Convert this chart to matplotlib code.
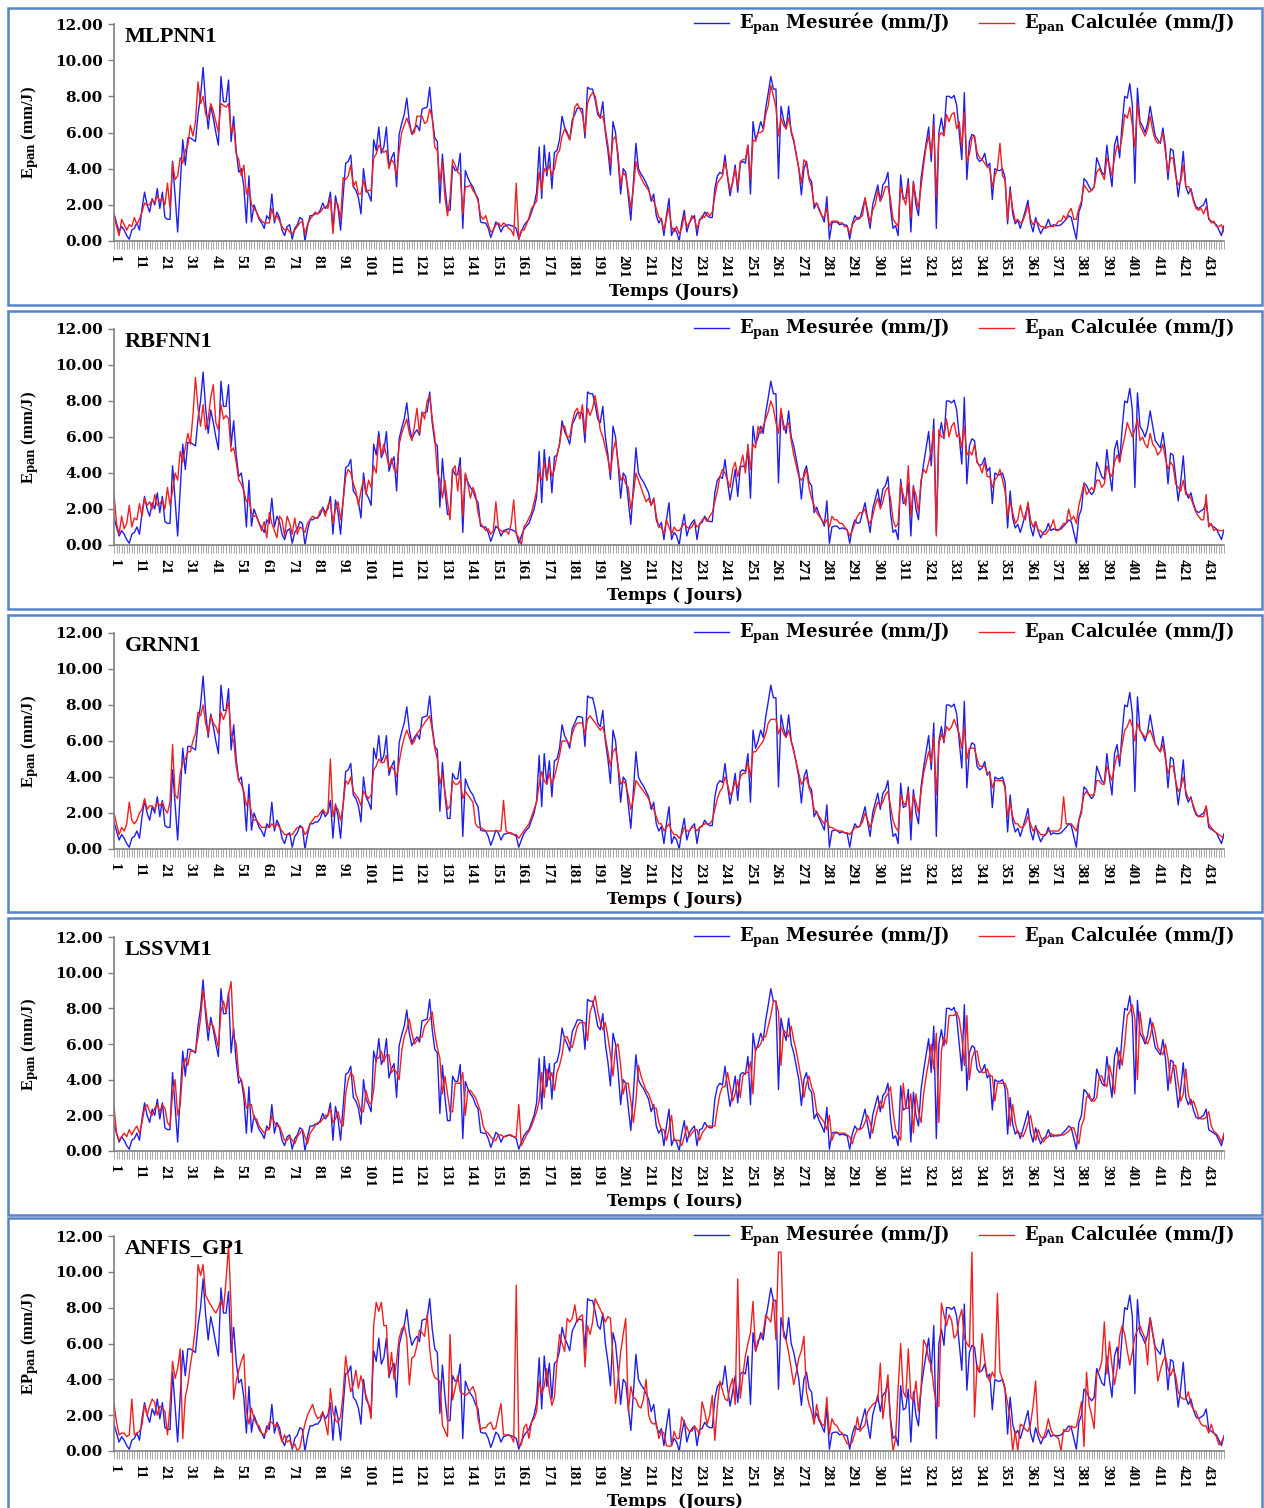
import numpy as np
import matplotlib.pyplot as plt
from matplotlib.patches import Rectangle
from matplotlib.ticker import FormatStrFormatter

# Epan mesurée (mm/J), commune aux 5 graphes
mesuree = [
    1.5, 1.0, 0.5, 0.8, 0.6, 0.3, 0.1, 0.6, 0.7, 1.0,
    0.6, 1.8, 2.7, 2.0, 1.6, 2.35, 2.0, 2.9, 1.8, 2.7,
    1.3, 1.2, 1.2, 4.4, 2.5, 0.5, 3.0, 5.6, 4.2, 5.7,
    5.7, 5.6, 5.5, 7.0, 8.0, 9.6, 7.6, 6.2, 7.5, 6.8,
    6.0, 5.3, 9.1, 7.7, 7.7, 8.9, 5.5, 6.9, 5.0, 3.8,
    4.0, 3.0, 1.0, 3.6, 1.05, 2.0, 1.6, 1.2, 1.0, 0.7,
    1.4, 1.2, 2.6, 1.0, 1.6, 1.3, 0.6, 0.3, 0.8, 0.9,
    0.1, 0.7, 0.9, 1.3, 1.2, 0.0, 0.8, 1.4, 1.4, 1.5,
    1.5, 1.7, 2.1, 1.8, 2.0, 2.7, 0.6, 2.5, 1.8, 0.6,
    2.5, 4.3, 4.4, 4.75, 3.0, 2.8, 2.4, 1.5, 4.0, 2.9,
    2.6, 2.2, 5.6, 5.0, 6.3, 4.85, 5.2, 6.3, 4.1, 4.6,
    4.9, 3.0, 5.9, 6.5, 7.0, 7.9, 6.6, 5.9, 6.2, 6.4,
    6.1, 7.3, 7.35, 7.4, 8.5, 6.8, 5.7, 5.5, 2.1, 4.8,
    3.0, 1.7, 1.7, 4.2, 3.9, 3.9, 4.85, 0.7, 3.9, 3.5,
    3.2, 3.0, 2.6, 2.35, 1.05, 1.0, 1.0, 0.7, 0.2, 0.6,
    1.05, 0.9, 0.5, 0.8, 0.85, 0.9, 0.85, 0.8, 0.7, 0.1,
    0.5, 0.85, 1.05, 1.2, 1.6, 2.0, 2.7, 5.2, 2.35, 5.3,
    3.6, 4.9, 2.9, 4.9, 5.0, 5.6, 6.9, 6.3, 6.0, 5.6,
    6.7, 7.0, 7.35, 7.35, 7.3, 5.7, 8.5, 8.4, 8.4, 7.8,
    7.0, 6.8, 7.7, 6.0, 5.0, 3.65, 6.6, 6.0, 4.5, 2.6,
    4.0, 3.8, 2.5, 1.15, 3.2, 5.4, 4.0, 3.7, 3.5, 3.2,
    2.9, 2.2, 2.6, 1.4, 1.0, 1.25, 0.3, 1.4, 2.35, 0.3,
    0.7, 0.5, 0.0, 1.0, 1.7, 0.5, 1.0, 1.25, 1.4, 0.3,
    1.2, 1.25, 1.6, 1.4, 1.3, 1.3, 2.9, 3.6, 3.8, 3.7,
    4.75, 3.5, 2.5, 3.3, 4.2, 2.7, 4.3, 4.4, 4.3, 5.3,
    2.6, 6.6, 5.6, 6.0, 6.6, 6.2, 7.35, 8.2, 9.1, 8.4,
    8.4, 3.45, 7.45, 6.7, 6.2, 7.45, 6.0, 5.5, 4.75, 4.0,
    2.55, 4.0, 4.4, 3.5, 3.3, 1.8, 2.1, 1.7, 1.4, 1.05,
    2.45, 0.1, 1.0, 1.05, 1.05, 0.9, 0.95, 0.9, 0.85, 0.1,
    0.95, 1.4, 1.2, 1.25, 1.8, 2.35, 1.5, 0.7, 2.0, 2.55,
    3.1, 2.2, 3.1, 3.3, 3.8, 1.8, 0.7, 0.85, 0.3, 3.65,
    2.3, 2.4, 3.45, 0.5, 3.3, 2.0, 1.4, 3.45, 4.5, 5.4,
    6.3, 4.4, 7.0, 0.7, 6.0, 6.8, 5.9, 8.0, 8.0, 7.9,
    8.05, 7.5, 6.0, 4.5, 8.2, 3.4, 5.5, 5.9, 5.8, 4.6,
    4.4, 4.5, 4.85, 4.1, 4.3, 2.3, 4.0, 3.9, 3.9, 4.0,
    3.5, 0.95, 3.0, 1.5, 0.95, 1.15, 0.7, 1.2, 1.7, 2.25,
    1.0, 0.5, 1.3, 0.8, 0.4, 0.7, 0.8, 1.2, 0.8, 0.9,
    0.85, 0.85, 0.9, 1.05, 1.2, 1.4, 1.3, 0.7, 0.1, 1.6,
    2.0, 3.45, 3.3, 3.0, 2.8, 3.0, 4.6, 4.2, 3.8, 3.65,
    5.3, 4.0, 3.0, 5.3, 5.8, 4.6, 6.5, 8.0, 7.9, 8.7,
    7.5, 3.2, 8.45, 6.6, 6.35, 6.0, 6.5, 7.45, 6.6, 5.8,
    5.6, 5.4, 6.25, 5.2, 3.4, 5.1, 5.0, 3.8, 2.45, 3.5,
    4.95, 3.0, 2.6, 2.9, 2.3, 1.9, 1.8, 1.9, 2.0, 2.35,
    1.2, 1.1, 1.0, 0.9, 0.6, 0.3, 0.85,
]

calc_mlpnn1 = [
    1.5, 0.8, 0.3, 1.2, 0.9, 0.6, 0.9, 0.8, 1.3, 0.9,
    1.2, 1.6, 2.1, 2.0, 2.0, 2.3, 2.1, 2.5, 2.2, 2.4,
    2.0, 3.2, 1.8, 4.3, 3.4, 3.6, 4.6, 4.3, 5.0, 5.3,
    6.4, 5.8, 6.6, 8.8, 7.6, 8.0, 7.0, 6.8, 7.6, 7.2,
    6.6, 6.0, 7.6, 7.5, 7.4, 7.6, 6.0, 6.4, 4.8, 4.5,
    3.6, 4.2, 2.6, 3.0, 2.0, 1.8, 1.6, 1.3, 1.1, 1.0,
    1.0, 1.0, 1.8, 1.2, 1.4, 1.1, 0.8, 0.6, 0.7, 0.5,
    0.4, 0.6, 0.8, 1.0, 1.1, 0.4, 0.9, 1.2, 1.4, 1.6,
    1.5, 1.6, 1.8, 1.9, 1.8, 2.4, 0.4, 2.2, 2.0, 1.2,
    3.5, 3.4, 3.6, 4.2, 3.0, 3.3, 2.6, 2.6, 3.4, 2.7,
    2.8, 2.8, 4.6, 4.8, 5.3, 5.1, 4.9, 5.0, 4.0, 4.5,
    4.3, 3.6, 5.0, 6.0, 6.4, 6.8, 6.4, 5.9, 6.0, 6.9,
    6.9, 6.9, 6.5, 6.6, 7.3, 6.8, 5.2, 5.0, 3.2, 4.4,
    2.4, 1.4, 2.4, 4.5, 4.2, 3.8, 3.7, 1.5, 3.0, 3.0,
    3.1, 2.8, 2.6, 2.2, 1.4, 1.2, 1.4, 0.9, 0.5, 0.6,
    0.9, 1.0, 0.8, 1.0, 0.9, 0.7, 0.6, 0.3, 3.2, 0.1,
    0.6, 0.6, 0.9, 1.3, 1.8, 2.0, 2.2, 3.8, 2.8, 4.0,
    3.8, 4.2, 3.6, 4.0, 4.8, 5.0, 5.8, 6.2, 5.9, 5.6,
    6.4, 7.4, 7.6, 7.3, 7.0, 6.0, 7.6, 8.0, 8.2, 8.0,
    7.2, 6.8, 6.9, 6.2, 5.3, 4.2, 5.6, 5.8, 4.8, 3.1,
    3.8, 3.6, 2.8, 1.8, 2.9, 4.4, 3.8, 3.5, 3.2, 3.0,
    2.8, 2.4, 2.2, 1.8, 1.3, 1.2, 0.6, 1.3, 1.8, 0.8,
    0.5, 0.8, 0.4, 0.7, 1.4, 0.8, 1.0, 1.4, 1.2, 0.7,
    1.1, 1.4, 1.3, 1.6, 1.4, 1.6, 2.5, 3.2, 3.4, 3.6,
    4.4, 3.6, 2.8, 3.2, 4.0, 3.0, 4.4, 4.5, 4.5, 5.3,
    3.4, 5.6, 5.5, 6.0, 6.0, 6.1, 7.0, 7.5, 8.6, 8.0,
    7.4, 5.8, 6.8, 6.4, 6.2, 6.8, 6.1, 5.6, 4.8, 4.0,
    3.2, 4.5, 4.3, 3.4, 3.0, 2.0, 2.1, 1.8, 1.4, 1.3,
    1.8, 0.8, 1.1, 1.1, 1.1, 1.0, 1.0, 0.8, 0.8, 0.4,
    0.9, 1.1, 1.3, 1.3, 1.4, 2.4, 1.7, 1.0, 1.7, 2.0,
    2.8, 2.2, 2.5, 3.0, 3.0, 2.3, 1.2, 1.0, 0.8, 3.0,
    2.4, 2.0, 3.2, 1.3, 3.2, 2.4, 1.8, 3.0, 4.2, 5.2,
    5.8, 4.8, 6.4, 2.4, 5.8, 6.0, 5.8, 7.0, 6.6, 7.0,
    7.1, 6.2, 6.6, 5.2, 7.1, 4.4, 4.8, 5.7, 5.8, 4.9,
    4.6, 4.5, 4.3, 4.1, 4.0, 3.0, 3.6, 4.0, 5.4, 3.6,
    3.4, 1.2, 2.8, 1.8, 1.1, 1.2, 1.0, 1.1, 1.5, 2.0,
    1.2, 0.9, 1.1, 1.0, 0.8, 0.8, 0.7, 0.8, 0.8, 0.8,
    0.9, 1.1, 1.1, 1.4, 1.2, 1.6, 1.8, 1.2, 1.2, 1.8,
    2.2, 3.1, 2.9, 2.7, 2.8, 3.0, 3.8, 4.0, 3.7, 3.4,
    4.6, 4.2, 3.6, 4.6, 5.3, 5.0, 5.8, 7.0, 6.8, 7.4,
    6.4, 5.2, 7.6, 6.4, 6.1, 5.8, 6.2, 6.9, 6.1, 5.6,
    5.4, 5.5, 6.0, 4.9, 3.8, 4.6, 4.6, 3.6, 3.1, 3.3,
    4.2, 3.0, 3.0, 2.8, 2.2, 1.8, 1.7, 1.8, 1.5, 1.9,
    1.3, 1.0, 1.1, 0.8, 0.8, 0.9, 0.5,
]

calc_rbfnn1 = [
    2.8, 1.2, 0.6, 1.6, 0.9, 1.2, 2.2, 1.0, 1.5, 1.4,
    2.3, 1.6, 2.6, 2.2, 2.4, 2.0, 2.8, 2.2, 2.3, 2.5,
    2.0, 3.2, 2.2, 3.0, 4.0, 3.6, 5.2, 4.6, 5.4, 6.2,
    5.6, 7.2, 9.3, 7.6, 6.6, 7.8, 6.4, 7.0, 8.2, 8.9,
    6.8, 6.4, 7.8, 7.0, 7.2, 7.0, 5.2, 5.4, 4.6, 3.6,
    3.4, 3.0, 2.4, 2.6, 1.8, 1.6, 1.6, 1.2, 0.8, 1.3,
    0.4, 1.8, 1.2, 0.8, 0.4, 1.6, 1.4, 0.5, 1.6, 1.2,
    0.6, 1.5, 0.6, 1.0, 0.9, 0.7, 1.2, 1.4, 1.6, 1.5,
    1.5, 1.9, 2.0, 1.6, 2.2, 2.4, 1.2, 2.0, 2.4, 1.4,
    2.4, 3.8, 4.2, 4.0, 3.4, 3.0, 2.2, 3.0, 3.6, 2.8,
    3.6, 3.2, 4.4, 4.0, 6.0, 5.0, 5.6, 5.0, 4.4, 4.8,
    4.2, 4.0, 5.6, 6.2, 6.6, 7.0, 6.2, 5.8, 6.6, 7.6,
    6.2, 7.4, 7.0, 8.0, 8.3, 7.0, 6.0, 4.0, 3.6, 2.6,
    3.6, 2.4, 1.4, 4.2, 4.4, 3.0, 4.4, 1.6, 4.0, 3.4,
    2.6, 3.2, 2.8, 1.8, 1.2, 1.0, 0.8, 0.9, 0.6, 0.8,
    2.4, 0.9, 0.8, 0.7, 0.8, 0.6, 1.2, 2.5, 0.6, 0.4,
    0.0, 1.0, 1.2, 1.5, 1.8, 2.4, 3.0, 4.0, 3.6, 4.6,
    3.6, 4.6, 3.8, 4.2, 5.0, 5.6, 6.6, 6.6, 6.0, 6.0,
    6.8, 7.4, 7.6, 7.0, 7.8, 6.2, 7.6, 7.2, 7.6, 8.3,
    7.4, 6.4, 6.0, 5.4, 4.8, 4.0, 5.2, 5.8, 4.6, 3.6,
    3.8, 3.4, 3.2, 2.0, 2.8, 4.0, 3.6, 3.2, 2.8, 2.4,
    2.6, 2.2, 2.6, 1.6, 1.0, 1.0, 0.6, 1.4, 1.0, 0.6,
    1.0, 0.8, 0.8, 1.0, 1.2, 1.0, 0.9, 1.0, 1.3, 1.0,
    1.1, 1.4, 1.5, 1.3, 1.6, 1.8, 2.4, 3.0, 3.8, 4.2,
    4.0, 3.6, 3.2, 4.2, 4.6, 3.8, 4.4, 5.0, 4.0, 5.6,
    4.2, 5.6, 5.4, 6.6, 6.2, 6.6, 7.0, 7.4, 8.0, 7.6,
    6.8, 6.2, 7.6, 6.4, 6.6, 6.8, 5.8, 5.0, 4.4, 3.8,
    3.6, 3.8, 4.2, 3.2, 2.6, 2.2, 1.8, 1.6, 1.4, 1.2,
    1.4, 1.0, 1.6, 1.4, 1.4, 1.2, 1.2, 1.0, 0.8, 0.5,
    0.8, 1.2, 1.6, 1.8, 1.8, 2.0, 1.4, 1.2, 1.6, 2.2,
    2.6, 2.0, 2.4, 3.0, 3.2, 2.6, 1.4, 1.0, 1.2, 3.4,
    2.8, 2.2, 4.4, 1.6, 3.2, 2.8, 1.8, 3.6, 4.2, 4.0,
    4.6, 5.2, 6.4, 0.5, 6.4, 6.0, 6.0, 7.0, 6.0, 6.6,
    6.8, 6.0, 6.2, 5.4, 6.6, 5.0, 5.2, 5.0, 5.6, 4.6,
    4.4, 4.0, 4.6, 3.8, 3.8, 3.2, 3.6, 3.8, 4.2, 3.6,
    3.0, 1.6, 2.4, 1.8, 1.2, 1.4, 2.2, 1.6, 1.4, 2.4,
    1.4, 1.0, 1.3, 0.8, 0.8, 0.6, 0.6, 0.8, 1.0, 1.4,
    0.8, 0.8, 1.0, 1.2, 1.2, 2.0, 1.4, 1.6, 1.2, 2.2,
    2.8, 3.4, 2.8, 3.0, 3.2, 3.0, 3.6, 3.6, 3.2, 3.4,
    4.4, 4.0, 3.8, 4.6, 5.0, 4.6, 5.4, 6.0, 6.8, 6.4,
    6.0, 6.4, 7.0, 5.8, 6.0, 5.6, 5.4, 6.2, 5.6, 5.4,
    5.0, 5.2, 5.6, 4.8, 4.2, 4.6, 4.4, 3.4, 3.2, 3.0,
    3.6, 2.8, 2.8, 2.6, 2.2, 1.8, 1.6, 1.4, 1.4, 2.8,
    1.0, 1.2, 0.8, 0.9, 0.8, 0.8, 0.8,
]

calc_grnn1 = [
    2.0, 1.4, 0.8, 1.2, 1.0, 1.4, 2.6, 1.6, 1.4, 1.6,
    2.0, 2.2, 2.8, 2.2, 2.4, 2.4, 2.2, 2.6, 2.4, 2.6,
    2.2, 2.0, 2.6, 5.8, 3.0, 2.8, 4.2, 4.8, 5.0, 5.4,
    5.4, 6.0, 6.4, 7.6, 7.4, 8.0, 7.0, 6.4, 7.4, 7.0,
    6.8, 6.4, 7.6, 7.2, 7.6, 8.2, 6.4, 6.0, 4.6, 3.8,
    3.6, 3.2, 2.4, 2.8, 2.0, 1.6, 1.6, 1.4, 1.2, 1.2,
    1.2, 1.2, 1.4, 1.2, 1.4, 1.2, 1.0, 0.8, 0.8, 0.8,
    0.8, 1.0, 1.2, 1.2, 1.2, 0.8, 1.0, 1.4, 1.6, 1.8,
    1.8, 2.0, 2.2, 2.0, 2.0, 5.0, 1.8, 2.4, 2.2, 1.6,
    2.4, 3.8, 3.6, 4.0, 3.2, 3.0, 2.8, 2.4, 3.2, 3.0,
    2.8, 3.0, 4.4, 4.6, 5.0, 4.8, 4.8, 5.2, 4.4, 4.6,
    4.4, 4.0, 4.8, 5.6, 6.2, 6.6, 6.2, 5.8, 6.0, 6.4,
    6.6, 6.8, 7.0, 7.2, 7.4, 6.6, 5.6, 5.0, 3.6, 4.2,
    3.2, 2.2, 2.4, 3.8, 3.6, 3.6, 3.8, 2.8, 3.2, 3.0,
    2.8, 2.6, 1.4, 1.2, 1.2, 1.1, 1.0, 1.0, 1.0, 1.0,
    1.0, 1.0, 1.0, 2.7, 1.0, 0.9, 0.9, 0.8, 0.8, 0.6,
    0.8, 1.0, 1.2, 1.4, 1.8, 2.2, 2.6, 3.6, 4.3, 3.8,
    3.6, 4.2, 3.6, 4.0, 4.6, 5.2, 6.0, 6.0, 6.0, 5.8,
    6.4, 6.8, 7.0, 7.0, 7.0, 6.4, 7.2, 7.4, 7.2, 7.0,
    6.8, 6.6, 6.8, 6.2, 5.4, 4.6, 5.4, 5.6, 4.6, 3.6,
    3.8, 3.6, 3.0, 2.2, 2.8, 3.8, 3.6, 3.4, 3.2, 3.0,
    2.8, 2.4, 2.2, 1.8, 1.4, 1.4, 1.0, 1.2, 1.4, 1.0,
    0.8, 0.8, 0.6, 0.8, 1.2, 1.0, 1.0, 1.2, 1.2, 1.0,
    1.2, 1.3, 1.4, 1.4, 1.4, 1.6, 2.2, 2.8, 3.2, 3.4,
    4.0, 3.6, 3.0, 3.2, 3.8, 3.4, 4.0, 4.2, 4.2, 4.8,
    4.0, 5.4, 5.4, 5.6, 5.8, 6.0, 6.4, 7.0, 7.2, 7.2,
    7.2, 6.4, 6.8, 6.4, 6.2, 6.6, 6.0, 5.4, 4.8, 4.2,
    3.6, 3.8, 4.0, 3.4, 3.0, 2.2, 2.0, 1.8, 1.6, 1.4,
    1.6, 1.2, 1.2, 1.1, 1.0, 1.0, 1.0, 0.9, 0.9, 0.8,
    1.0, 1.2, 1.2, 1.3, 1.5, 2.0, 1.6, 1.2, 1.6, 2.2,
    2.6, 2.4, 2.6, 3.0, 3.2, 2.4, 1.6, 1.2, 1.0, 3.0,
    2.6, 2.4, 3.2, 1.6, 3.0, 2.6, 2.0, 3.2, 4.2, 4.8,
    5.4, 4.8, 6.2, 3.0, 5.8, 6.4, 6.0, 6.8, 6.6, 6.8,
    7.2, 6.8, 6.4, 5.6, 6.8, 5.0, 5.6, 5.6, 5.6, 5.0,
    4.6, 4.6, 4.6, 4.2, 4.2, 3.4, 3.8, 3.8, 3.8, 3.8,
    3.4, 1.8, 2.6, 1.8, 1.4, 1.4, 1.2, 1.2, 1.4, 1.8,
    1.4, 1.0, 1.2, 1.0, 0.8, 0.8, 0.8, 1.0, 1.0, 1.0,
    1.0, 1.0, 1.2, 2.9, 1.4, 1.4, 1.4, 1.2, 1.0, 1.6,
    2.2, 3.0, 3.2, 3.0, 3.0, 3.0, 3.8, 3.8, 3.6, 3.6,
    4.6, 4.2, 3.8, 4.6, 5.2, 5.0, 5.8, 6.6, 6.8, 7.2,
    6.8, 6.0, 7.0, 6.6, 6.4, 6.2, 6.4, 6.6, 6.2, 5.8,
    5.6, 5.4, 5.8, 5.0, 4.2, 4.6, 4.6, 3.8, 3.2, 3.4,
    4.0, 3.2, 2.8, 2.8, 2.4, 2.0, 1.8, 1.8, 1.8, 2.4,
    1.4, 1.2, 1.0, 0.9, 0.8, 0.7, 0.6,
]

calc_lssvm1 = [
    2.5, 1.0, 0.6, 0.8, 1.0, 0.8, 1.2, 0.9, 1.2, 1.4,
    1.0, 1.6, 2.4, 2.6, 2.2, 2.0, 2.4, 2.6, 2.2, 2.6,
    2.4, 1.6, 1.4, 3.2, 4.0, 2.0, 2.6, 4.6, 5.2, 4.8,
    5.6, 5.6, 5.6, 6.4, 7.4, 9.0, 8.0, 6.8, 7.2, 7.0,
    6.4, 5.8, 7.8, 8.4, 7.8, 8.8, 9.5, 6.4, 6.0, 4.2,
    4.0, 3.4, 2.4, 2.6, 2.6, 1.8, 1.8, 1.4, 1.2, 1.0,
    1.2, 1.2, 2.0, 1.6, 1.4, 1.4, 1.0, 0.6, 0.6, 0.8,
    0.6, 0.4, 0.8, 1.0, 1.2, 0.8, 0.4, 1.0, 1.2, 1.4,
    1.6, 1.6, 1.8, 2.0, 2.0, 2.4, 1.6, 1.8, 2.2, 1.6,
    1.4, 3.2, 4.0, 4.4, 4.2, 3.2, 2.8, 2.2, 2.2, 3.4,
    2.8, 2.6, 3.4, 5.2, 5.2, 5.6, 5.0, 5.4, 5.4, 4.4,
    4.6, 4.4, 4.0, 5.6, 6.4, 6.8, 7.4, 6.6, 6.0, 6.2,
    6.4, 6.4, 7.0, 7.2, 7.4, 7.8, 6.6, 5.8, 5.2, 3.2,
    4.2, 3.2, 2.2, 2.2, 3.8, 3.8, 3.8, 4.4, 2.0, 3.4,
    3.4, 3.2, 3.0, 2.6, 2.2, 1.4, 1.1, 1.0, 0.8, 0.6,
    0.6, 0.9, 0.9, 0.8, 0.8, 0.9, 0.9, 0.8, 0.8, 2.6,
    0.3, 0.6, 0.9, 1.1, 1.4, 1.8, 2.2, 2.8, 4.4, 3.0,
    4.6, 4.0, 4.4, 3.4, 4.4, 4.8, 5.4, 6.4, 6.4, 6.0,
    5.8, 6.4, 7.0, 7.2, 7.2, 7.2, 6.2, 7.8, 8.2, 8.7,
    7.8, 7.2, 6.8, 7.2, 6.4, 5.4, 4.2, 5.8, 6.0, 4.8,
    3.2, 3.8, 3.8, 2.8, 1.6, 2.8, 4.8, 4.2, 3.8, 3.4,
    3.2, 2.8, 2.4, 2.4, 1.6, 1.2, 1.2, 0.6, 1.2, 2.0,
    0.6, 0.6, 0.6, 0.3, 0.8, 1.4, 0.8, 1.0, 1.2, 1.2,
    0.6, 1.0, 1.2, 1.4, 1.4, 1.4, 1.4, 2.4, 3.2, 3.6,
    3.6, 4.4, 3.6, 2.8, 3.2, 4.0, 3.0, 4.2, 4.4, 4.4,
    5.0, 3.2, 5.8, 5.8, 6.0, 6.4, 6.4, 7.0, 7.6, 8.4,
    8.4, 7.8, 4.8, 6.8, 6.6, 6.4, 7.0, 6.2, 5.6, 4.8,
    4.0, 3.0, 3.8, 4.2, 3.6, 3.2, 2.2, 2.0, 1.8, 1.6,
    1.2, 2.0, 0.6, 1.0, 1.0, 1.0, 1.0, 1.0, 0.9, 0.8,
    0.4, 0.9, 1.2, 1.2, 1.3, 1.6, 2.0, 1.6, 1.0, 1.8,
    2.4, 2.8, 2.4, 3.0, 3.2, 3.6, 2.2, 1.2, 0.9, 0.6,
    3.8, 2.4, 2.4, 3.2, 1.0, 3.2, 2.2, 1.6, 3.2, 4.2,
    5.0, 6.0, 4.6, 6.6, 1.6, 5.6, 6.4, 6.0, 7.6, 7.6,
    7.6, 7.8, 7.4, 6.4, 4.8, 7.6, 4.0, 5.2, 5.6, 5.6,
    4.8, 4.4, 4.4, 4.6, 4.2, 4.2, 2.8, 3.8, 3.8, 3.8,
    3.8, 3.4, 1.4, 2.6, 1.6, 1.0, 1.0, 0.8, 1.1, 1.6,
    2.0, 1.2, 0.6, 1.2, 0.8, 0.5, 0.7, 0.8, 1.0, 0.8,
    0.9, 0.9, 0.9, 0.9, 1.0, 1.1, 1.3, 1.3, 0.8, 0.4,
    1.4, 1.8, 3.0, 3.2, 2.8, 2.8, 3.0, 4.2, 4.2, 3.8,
    3.6, 4.8, 4.2, 3.2, 4.8, 5.6, 4.8, 6.0, 7.6, 7.8,
    8.2, 7.4, 4.0, 7.8, 6.6, 6.2, 6.0, 6.4, 7.2, 6.6,
    5.8, 5.6, 5.4, 6.0, 5.2, 3.8, 4.8, 4.8, 3.8, 2.8,
    3.2, 4.6, 3.2, 2.6, 2.8, 2.4, 1.9, 1.8, 1.8, 1.9,
    2.2, 1.4, 1.1, 1.0, 0.8, 0.5, 1.0,
]

calc_anfis_gp1 = [
    2.65, 1.6, 0.9, 1.0, 1.0, 0.8, 0.9, 2.9, 0.9, 1.0,
    1.1, 1.45, 2.6, 2.0, 2.5, 2.9, 2.7, 2.0, 2.5, 2.4,
    2.2, 0.9, 2.5, 5.0, 4.05, 4.6, 5.7, 0.7, 3.0, 3.7,
    4.8, 5.7, 7.0, 10.4, 9.8, 10.4, 8.7, 8.4, 8.15, 7.9,
    7.7, 8.0, 8.4, 7.9, 9.5, 11.5, 8.0, 2.9, 3.9, 4.5,
    5.0, 5.4, 2.2, 1.5, 2.4, 1.8, 1.5, 1.4, 1.0, 0.9,
    1.1, 1.6, 1.6, 1.4, 1.5, 1.0, 0.5, 0.9, 0.5, 0.6,
    0.2, 0.4, 0.0, 0.2, 0.9, 1.5, 2.0, 2.3, 2.6, 2.1,
    1.8, 1.9, 2.2, 1.6, 0.9, 3.5, 2.2, 1.7, 1.6, 1.9,
    3.2, 5.3, 4.2, 3.3, 3.7, 4.5, 3.5, 4.2, 3.6, 3.1,
    2.6, 1.8, 7.0, 8.3, 7.8, 8.3, 7.0, 7.0, 4.15, 5.5,
    4.0, 5.0, 6.3, 6.8, 7.0, 6.3, 3.7, 5.2, 5.3, 5.9,
    6.75, 6.6, 6.4, 7.6, 5.7, 4.5, 4.1, 4.0, 3.9, 1.45,
    1.1, 0.8, 6.5, 2.85, 3.5, 4.2, 3.3, 3.2, 3.1, 3.2,
    3.4, 3.6, 3.2, 1.8, 1.2, 1.3, 1.3, 1.5, 1.6, 1.2,
    1.3, 2.0, 2.65, 0.9, 0.9, 0.9, 0.8, 0.5, 9.25, 0.35,
    0.35, 1.3, 1.5, 0.7, 1.6, 1.8, 2.2, 3.9, 3.2, 3.6,
    4.6, 3.3, 2.55, 3.0, 5.0, 6.5, 6.0, 5.55, 7.4, 7.2,
    7.4, 8.15, 7.2, 7.5, 7.6, 4.7, 7.0, 6.5, 7.2, 8.5,
    8.2, 7.9, 7.6, 7.2, 7.5, 7.4, 5.2, 2.65, 4.0, 5.5,
    6.5, 7.4, 2.2, 3.6, 3.0, 2.9, 2.5, 2.4, 2.9, 4.0,
    2.0, 1.6, 1.5, 1.6, 0.7, 1.1, 1.0, 0.3, 0.25, 0.3,
    1.1, 0.7, 0.7, 1.9, 1.6, 1.3, 1.1, 1.1, 1.4, 1.2,
    0.9, 2.75, 2.2, 1.5, 2.0, 3.1, 0.6, 2.5, 3.9, 3.4,
    2.9, 2.8, 3.6, 4.05, 2.6, 9.6, 2.95, 4.2, 5.3, 6.0,
    6.6, 8.35, 5.55, 6.2, 6.3, 6.6, 7.6, 7.4, 7.2, 8.5,
    6.2, 11.1, 11.1, 6.4, 6.2, 5.5, 4.6, 3.7, 4.4, 5.2,
    5.6, 6.4, 3.3, 2.6, 2.2, 1.5, 2.6, 1.8, 1.5, 1.4,
    3.0, 0.9, 1.8, 1.5, 1.4, 1.1, 1.0, 0.7, 0.4, 0.4,
    0.5, 1.0, 1.9, 1.1, 1.3, 1.45, 2.2, 2.4, 2.6, 2.7,
    2.8, 4.9, 1.8, 3.0, 4.25, 1.6, 0.0, 0.7, 3.5, 6.0,
    3.3, 3.0, 5.7, 3.0, 2.8, 3.9, 2.2, 3.5, 6.2, 5.9,
    5.1, 4.8, 3.5, 2.6, 2.5, 8.25, 7.6, 7.0, 7.6, 7.3,
    6.3, 6.5, 7.4, 7.9, 6.3, 6.0, 5.8, 11.1, 1.9, 4.8,
    4.4, 6.55, 5.1, 4.2, 3.9, 4.4, 4.1, 8.8, 4.4, 4.0,
    3.4, 2.7, 1.8, 0.0, 1.1, 0.0, 1.5, 1.4, 1.2, 1.1,
    1.5, 2.5, 3.9, 1.1, 0.8, 0.7, 1.1, 1.8, 1.2, 0.9,
    0.8, 0.7, 0.0, 1.2, 1.1, 1.1, 1.4, 1.3, 1.35, 2.0,
    2.75, 0.25, 4.4, 2.6, 2.0, 1.25, 4.3, 4.5, 5.0, 7.2,
    4.3, 6.1, 4.8, 3.7, 4.6, 6.4, 7.0, 6.5, 5.6, 4.8,
    5.5, 6.4, 6.75, 7.0, 6.6, 6.3, 4.8, 7.4, 6.5, 5.6,
    3.9, 4.5, 5.0, 5.3, 4.6, 4.2, 4.6, 4.2, 3.3, 3.0,
    2.9, 2.9, 3.3, 2.6, 2.3, 2.2, 1.8, 1.5, 1.4, 1.4,
    1.0, 1.5, 1.0, 0.8, 0.35, 0.5, 0.8,
]

modeles = ['MLPNN1', 'RBFNN1', 'GRNN1', 'LSSVM1', 'ANFIS_GP1']
calculees = [calc_mlpnn1, calc_rbfnn1, calc_grnn1, calc_lssvm1, calc_anfis_gp1]
xlabels = ['Temps (Jours)', 'Temps ( Jours)', 'Temps ( Jours)', 'Temps ( Iours)', 'Temps  (Jours)']
ylabels = [r'E$_{\mathbf{pan}}$ (mm/J)'] * 4 + [r'EP$_{\mathbf{pan}}$ (mm/J)']

plt.rcParams['font.family'] = 'DejaVu Serif'
plt.rcParams['font.weight'] = 'bold'
plt.rcParams['axes.labelweight'] = 'bold'
plt.rcParams['mathtext.fontset'] = 'dejavuserif'

W, H = 1264, 1508
fig = plt.figure(figsize=(W / 100, H / 100), dpi=100)

# positions en pixels (haut / bas de chaque zone de tracé, cadres bleus)
tops = [24, 329, 633, 937, 1236]
bots = [241, 545, 849, 1151, 1451]
cadres = [(8, 305), (311, 609), (615, 912), (918, 1215), (1218, 1516)]
left, right = 114, 1224

for i in range(5):
    ax = fig.add_axes([left / W, 1 - bots[i] / H, (right - left) / W, (bots[i] - tops[i]) / H])
    jours = np.arange(1, len(mesuree) + 1)
    jc = np.arange(1, len(calculees[i]) + 1)
    ax.plot(jours, mesuree, color='#1f1fe8', lw=1.0, label=r'E$_{\mathbf{pan}}$ Mesurée (mm/J)')
    ax.plot(jc, calculees[i], color='#f02020', lw=1.0, label=r'E$_{\mathbf{pan}}$ Calculée (mm/J)')

    ax.set_xlim(1, 437)
    ax.set_ylim(0, 12)
    ax.set_yticks(np.arange(0, 13, 2))
    ax.yaxis.set_major_formatter(FormatStrFormatter('%.2f'))
    ax.set_xticks(np.arange(1, 438, 10))
    ax.set_xticks(jours, minor=True)
    ax.tick_params(axis='x', which='both', length=6, color='#9a9a9a', width=0.6,
                   direction='out')
    ax.tick_params(axis='x', which='major', labelrotation=270, pad=4)
    for lab in ax.get_xticklabels():
        lab.set_fontfamily('Liberation Serif')
        lab.set_fontsize(11)
    ax.tick_params(axis='y', length=4, color='#7f7f7f', width=1, labelsize=11, pad=4)
    for s in ['top', 'right']:
        ax.spines[s].set_visible(False)
    for s in ['left', 'bottom']:
        ax.spines[s].set_color('#7f7f7f')
        ax.spines[s].set_linewidth(1.2)

    ax.set_ylabel(ylabels[i], fontsize=12, fontfamily='Liberation Serif')
    ax.yaxis.set_label_coords(-0.066, 0.5)
    ax.set_xlabel(xlabels[i], fontsize=12)
    ax.xaxis.set_label_coords(0.505, -0.195)

    ax.text(0.01, 0.94, modeles[i], transform=ax.transAxes, fontsize=16,
            fontfamily='Liberation Serif', fontweight='bold', va='center', ha='left')
    ax.legend(loc='center right', bbox_to_anchor=(1.016, 1.0), ncol=2, frameon=False,
              fontsize=13, handlelength=1.95, handletextpad=0.55, columnspacing=1.65,
              borderaxespad=0)

    y0, y1 = cadres[i]
    fig.patches.append(Rectangle((8 / W, 1 - y1 / H), (1262 - 8) / W, (y1 - y0) / H,
                                 transform=fig.transFigure, fill=False,
                                 edgecolor='#5585c8', lw=1.8))

fig.savefig('out.png', dpi=100)
